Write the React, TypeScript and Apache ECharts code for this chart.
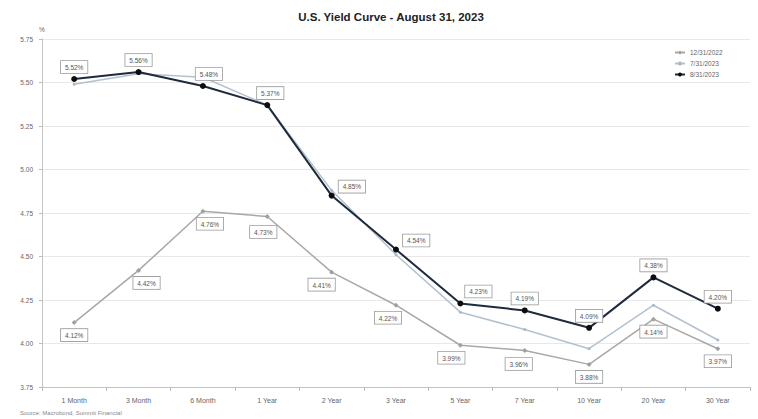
import React, { useEffect, useRef } from "react";
import * as echarts from "echarts";

const categories = ["1 Month", "3 Month", "6 Month", "1 Year", "2 Year", "3 Year", "5 Year", "7 Year", "10 Year", "20 Year", "30 Year"];
const seriesNames = ["12/31/2022", "7/31/2023", "8/31/2023"];
const dec2022 = [4.12, 4.42, 4.76, 4.73, 4.41, 4.22, 3.99, 3.96, 3.88, 4.14, 3.97];
const jul2023 = [5.49, 5.55, 5.53, 5.37, 4.88, 4.51, 4.18, 4.08, 3.97, 4.22, 4.02];
const aug2023 = [5.52, 5.56, 5.48, 5.37, 4.85, 4.54, 4.23, 4.19, 4.09, 4.38, 4.20];
const yMin = 3.75;
const yMax = 5.75;
const yStep = 0.25;
const titleText = "U.S. Yield Curve - August 31, 2023";
const sourceText = "Source: Macrobond, Summit Financial";

const labelBase = {
  show: true,
  fontSize: 6.5,
  color: "#555",
  fontFamily: "Liberation Sans, Arial, sans-serif",
  backgroundColor: "#fff",
  borderColor: "#9a9a9a",
  borderWidth: 0.8,
  padding: [3, 4, 2, 4],
  formatter: (p: any) => Number(p.value).toFixed(2) + "%",
};

export default function App() {
  const ref = useRef<HTMLDivElement>(null);
  useEffect(() => {
    if (!ref.current) return;
    const chart = echarts.init(ref.current, undefined, { renderer: "svg" });

    const augLabel = (i: number) => {
      if (i === 4 || i === 5) return { position: "right", distance: 4, offset: [0, -9] };
      if (i === 6) return { position: "top", distance: 3, offset: [18, 0] };
      if (i === 2) return { position: "top", distance: 3, offset: [6, 0] };
      if (i === 3) return { position: "top", distance: 3, offset: [3, 0] };
      return { position: "top", distance: 3 };
    };
    const decLabel = (i: number) => {
      if (i === 1) return { position: "bottom", distance: 4, offset: [8, 0] };
      if (i === 2) return { position: "bottom", distance: 4, offset: [7, 0] };
      if (i === 3) return { position: "bottom", distance: 7, offset: [-4, 0] };
      if (i === 4) return { position: "bottom", distance: 4, offset: [-10, 0] };
      if (i === 5) return { position: "bottom", distance: 4, offset: [-8, 0] };
      if (i === 6) return { position: "bottom", distance: 4, offset: [-9, 0] };
      if (i === 7) return { position: "bottom", distance: 5, offset: [-6, 0] };
      return { position: "bottom", distance: 4 };
    };

    chart.setOption({
      animation: false,
      backgroundColor: "#fff",
      textStyle: { fontFamily: "Liberation Sans, Arial, sans-serif" },
      title: {
        text: titleText,
        left: 386,
        textAlign: "center",
        top: 6,
        textStyle: { fontSize: 11.5, fontWeight: "bold", color: "#222" },
      },
      legend: {
        data: seriesNames,
        orient: "vertical",
        left: 669,
        top: 44,
        itemWidth: 10,
        itemHeight: 5,
        itemGap: 4,
        textStyle: { fontSize: 6.5, color: "#666" },
      },
      grid: { left: 42, right: 8, top: 39, bottom: 32 },
      xAxis: {
        type: "category",
        data: categories,
        boundaryGap: true,
        axisLine: { lineStyle: { color: "#c4c4c4" } },
        axisTick: { show: true, length: 4, lineStyle: { color: "#bbb" } },
        axisLabel: { fontSize: 7, color: "#666", margin: 10 },
      },
      yAxis: {
        type: "value",
        min: yMin,
        max: yMax,
        interval: yStep,
        name: "%",
        nameLocation: "end",
        nameGap: 6,
        nameTextStyle: { fontSize: 6.5, color: "#666", align: "center" },
        axisLine: { show: true, lineStyle: { color: "#c4c4c4" } },
        axisTick: { show: true, length: 3, lineStyle: { color: "#bbb" } },
        axisLabel: { fontSize: 6.5, color: "#666", formatter: (v: number) => v.toFixed(2), margin: 9 },
        splitLine: { lineStyle: { color: "#e8e8e8" } },
      },
      graphic: [
        {
          type: "text",
          left: 20,
          top: 410,
          style: { text: sourceText, fontSize: 6, fill: "#888", fontFamily: "Liberation Sans, Arial, sans-serif" },
        },
      ],
      series: [
        {
          name: seriesNames[0],
          type: "line",
          data: dec2022.map((v, i) => ({ value: v, label: { ...labelBase, ...decLabel(i) } })),
          symbol: "diamond",
          symbolSize: 5,
          lineStyle: { color: "#a8a8a8", width: 1.5 },
          itemStyle: { color: "#a0a0a0" },
          z: 2,
        },
        {
          name: seriesNames[1],
          type: "line",
          data: jul2023,
          symbol: "circle",
          symbolSize: 3,
          lineStyle: { color: "#b3c1cf", width: 1.5 },
          itemStyle: { color: "#a9b8c8" },
          z: 3,
        },
        {
          name: seriesNames[2],
          type: "line",
          data: aug2023.map((v, i) => ({ value: v, label: { ...labelBase, ...augLabel(i) } })),
          symbol: "circle",
          symbolSize: 6,
          lineStyle: { color: "#1e2a3d", width: 2 },
          itemStyle: { color: "#0d0d0d" },
          z: 4,
        },
      ],
    });
    return () => chart.dispose();
  }, []);
  return (
    <div
      ref={ref}
      style={{ position: "fixed", left: 0, top: 0, width: 758, height: 419, background: "#fff" }}
    />
  );
}
